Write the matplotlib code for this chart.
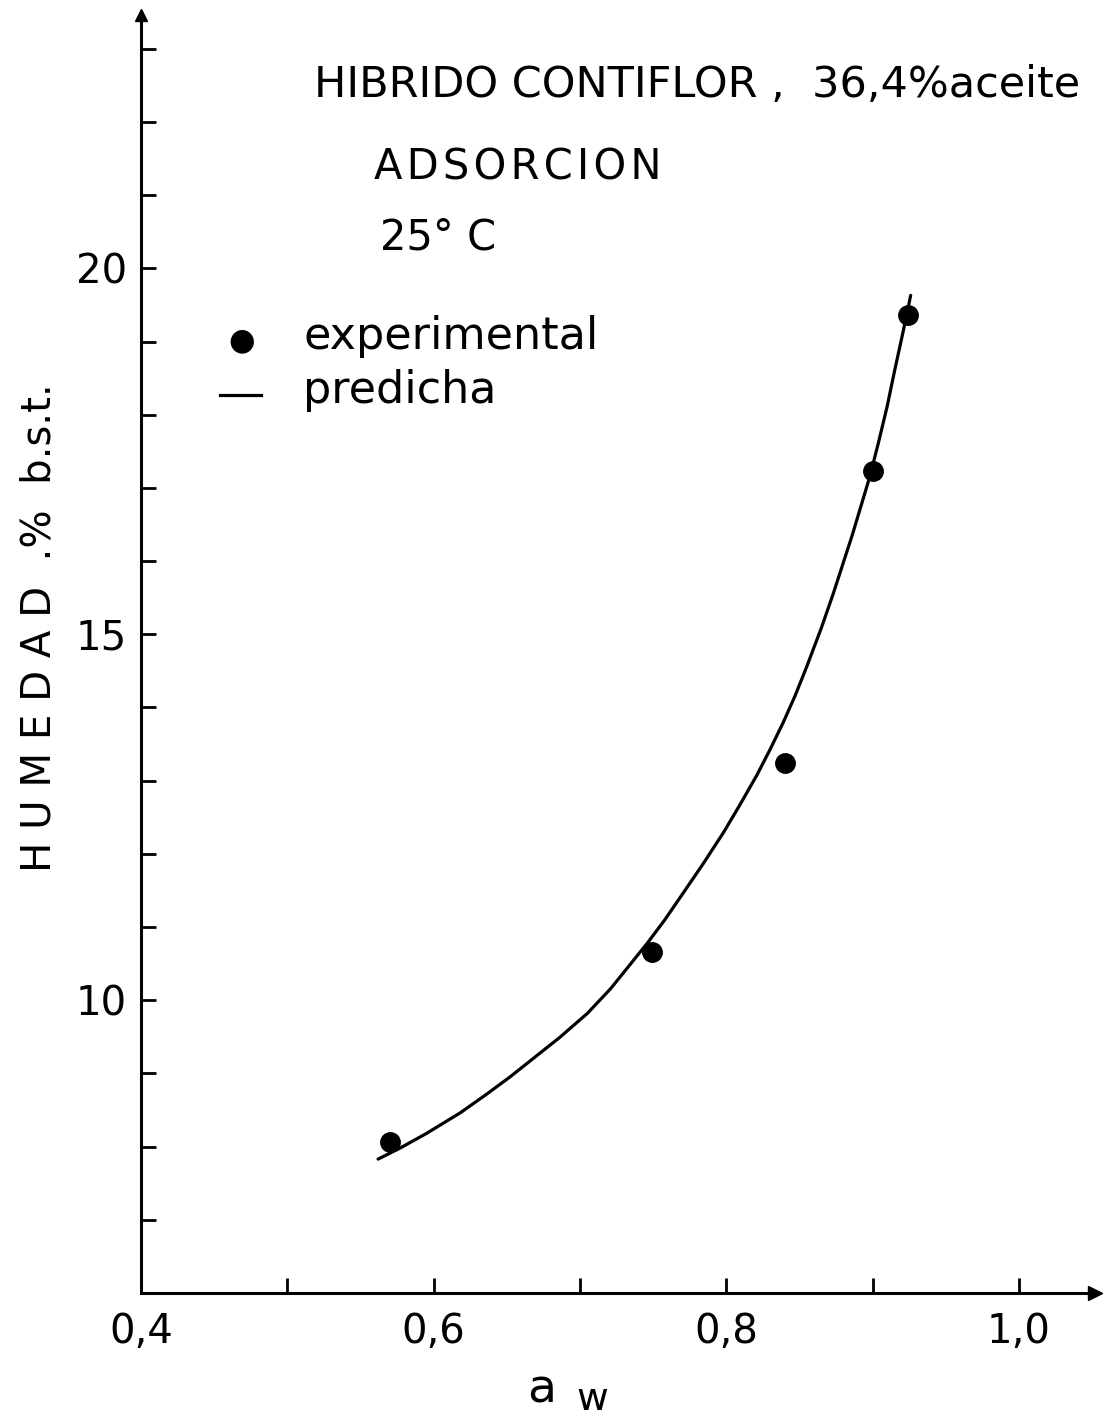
import matplotlib
matplotlib.use("Agg")
import matplotlib.pyplot as plt
from matplotlib.ticker import MultipleLocator, FixedLocator, FuncFormatter

plt.rcParams['font.family'] = ['DejaVu Sans']

# Experimental sorption points (water activity, moisture % dry basis)
aw_exp = [0.570, 0.749, 0.840, 0.900, 0.924]
hum_exp = [8.07, 10.66, 13.24, 17.23, 19.36]

# Predicted isotherm
aw_pred = [0.562, 0.577, 0.595, 0.618, 0.635, 0.652, 0.669, 0.686, 0.705,
           0.721, 0.746, 0.758, 0.770, 0.784, 0.798, 0.809, 0.821, 0.830,
           0.839, 0.847, 0.855, 0.865, 0.873, 0.886, 0.898, 0.904, 0.910,
           0.915, 0.921, 0.926]
hum_pred = [7.83, 7.98, 8.18, 8.46, 8.70, 8.95, 9.22, 9.49, 9.82,
            10.16, 10.78, 11.10, 11.45, 11.86, 12.29, 12.66, 13.08, 13.43,
            13.80, 14.16, 14.56, 15.09, 15.55, 16.35, 17.15, 17.62, 18.12,
            18.60, 19.15, 19.63]

x_ticks = [0.4, 0.5, 0.6, 0.7, 0.8, 0.9, 1.0]
x_labels = {0.4: "0,4", 0.6: "0,6", 0.8: "0,8", 1.0: "1,0"}
y_labels = {10: "10", 15: "15", 20: "20"}

fig = plt.figure(figsize=(11.07, 14.20), dpi=100)
ax = fig.add_axes([0.1274, 0.0894, 0.8618, 0.9000])
ax.set_xlim(0.4, 1.052)
ax.set_ylim(6.0, 23.46)

ax.plot(aw_pred, hum_pred, color='black', lw=2.3, solid_capstyle='round',
        solid_joinstyle='round')
ax.plot(aw_exp, hum_exp, 'o', color='black', markersize=14, zorder=3)

for s in ('top', 'right'):
    ax.spines[s].set_visible(False)
for s in ('left', 'bottom'):
    ax.spines[s].set_linewidth(2.2)

# axis arrowheads
ax.plot(1, 0, '>', color='black', markersize=10, transform=ax.transAxes, clip_on=False)
ax.plot(0, 1, '^', color='black', markersize=8, transform=ax.transAxes, clip_on=False)

ax.xaxis.set_major_locator(FixedLocator(x_ticks))
ax.xaxis.set_major_formatter(FuncFormatter(
    lambda v, p: x_labels.get(round(v, 1), "")))
ax.yaxis.set_major_locator(MultipleLocator(1))
ax.yaxis.set_major_formatter(FuncFormatter(
    lambda v, p: y_labels.get(int(round(v)), "")))
ax.tick_params(axis='both', direction='in', length=11, width=2.0,
               labelsize=29, pad=14)
ax.tick_params(axis='y', pad=10)

# x-axis label a_w
fig.text(0.489, 0.012, "a", fontsize=34, ha='center', va='baseline')
fig.text(0.535, 0.007, "w", fontsize=28, ha='center', va='baseline')

fig.text(0.036, 0.558, "H U M E D A D  .%  b.s.t.", fontsize=29,
         rotation=90, ha='center', va='center')

hs = "\u200a"
fig.text(0.284, 0.940, "HIBRIDO CONTIFLOR ,  36,4%aceite",
         fontsize=31, ha='left', va='center')
fig.text(0.338, 0.882, hs.join("ADSORCION"), fontsize=30,
         ha='left', va='center')
fig.text(0.343, 0.833, "25° C", fontsize=30, ha='left', va='center')

# legend
fig.text(0.218, 0.760, "●", fontsize=22, ha='center', va='center')
fig.text(0.274, 0.763, "experimental", fontsize=32, ha='left', va='center')
fig.add_artist(plt.Line2D([0.199, 0.236], [0.722, 0.722], color='black',
                          lw=2.3, transform=fig.transFigure))
fig.text(0.274, 0.725, "predicha", fontsize=32, ha='left', va='center')

fig.savefig("out.png", dpi=100)
